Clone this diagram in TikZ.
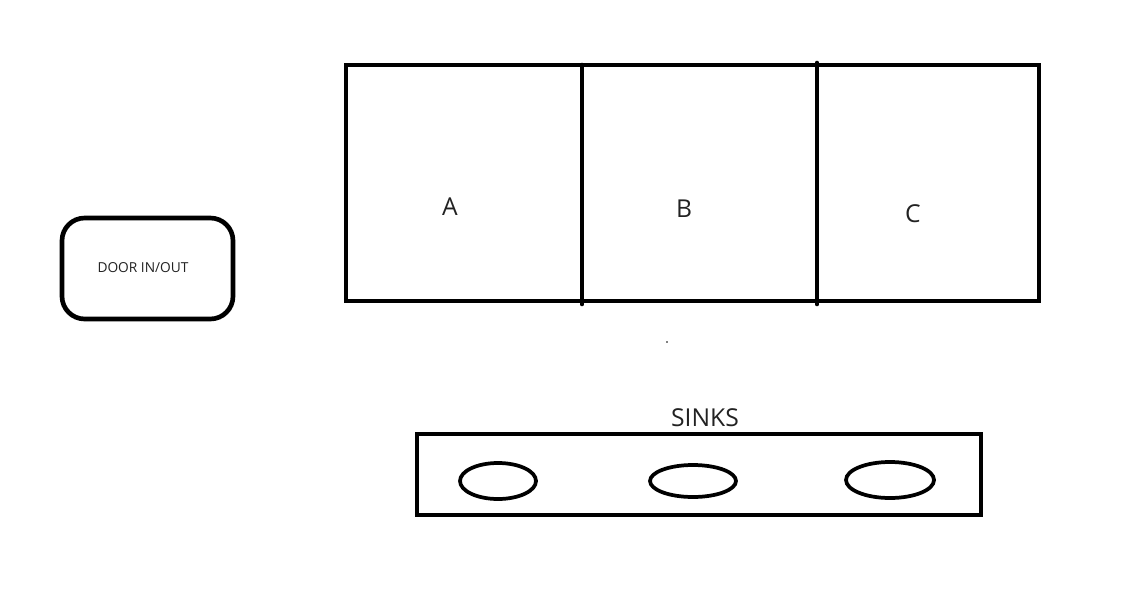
\documentclass[tikz,border=0pt]{standalone}
\usepackage{fontspec}
\setmainfont{Open Sans}
\definecolor{inkgray}{HTML}{222222}

\begin{document}
\begin{tikzpicture}[x=0.75pt, y=-0.75pt,
    wall/.style={line width=3.5pt},
    sink/.style={line width=2.8pt},
    lbl/.style={text=inkgray, font=\fontsize{18.5}{22}\selectfont}]
        \useasboundingbox (0,0) rectangle (1141,600);
        % door
        \draw[wall, rounded corners=17pt] (62,218) rectangle (233,319);
        \node[text=inkgray, font=\fontsize{10.3}{12}\selectfont] (door) at (143,268) {DOOR IN/OUT};
        % rooms
        \draw[wall] (346,65) rectangle (1039,301);
        \draw[wall, line cap=round] (582,65) -- (582,304);
        \draw[wall, line cap=round] (817,63) -- (817,304);
        \node[lbl] (roomA) at (450,207) {A};
        \node[lbl] (roomB) at (684,209) {B};
        \node[lbl] (roomC) at (913,214) {C};
        \fill (667,342) circle (0.6pt);
        % sinks
        \node[lbl] (sinks) at (705,418) {SINKS};
        \draw[wall] (417,434) rectangle (981,515);
        \draw[sink] (498,481) ellipse (38 and 18);
        \draw[sink] (693,481) ellipse (43 and 16);
        \draw[sink] (890,480) ellipse (44 and 18);
      \end{tikzpicture}
\end{document}
